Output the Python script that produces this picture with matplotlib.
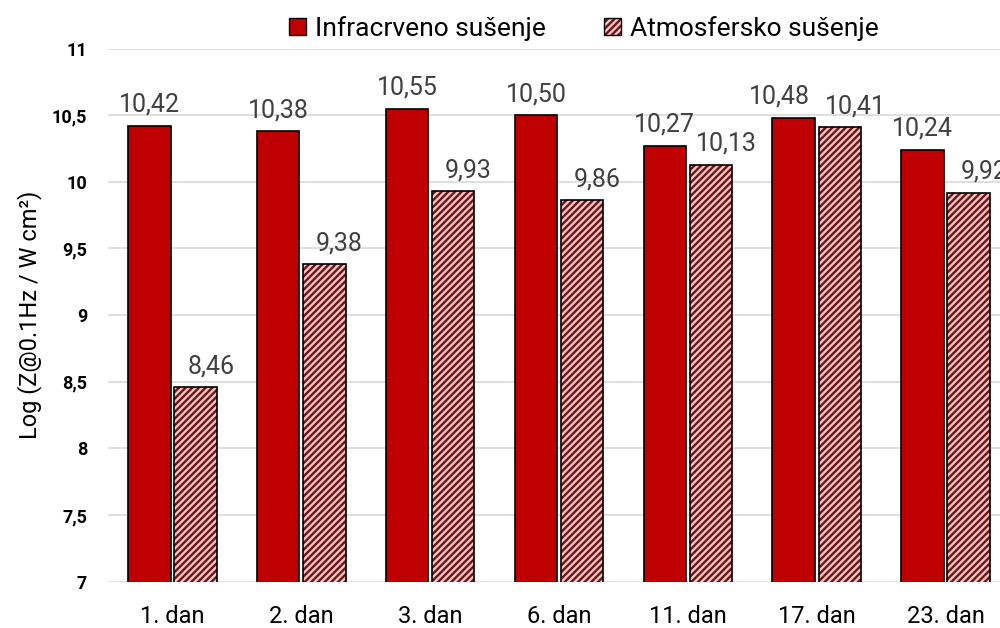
import numpy as np
import matplotlib
matplotlib.use("Agg")
import matplotlib.pyplot as plt
from matplotlib.patches import Patch
from matplotlib.legend_handler import HandlerTuple
from matplotlib.ticker import FuncFormatter

days = ["1. dan", "2. dan", "3. dan", "6. dan", "11. dan", "17. dan", "23. dan"]
infrared = [10.42, 10.38, 10.55, 10.50, 10.27, 10.48, 10.24]
atmospheric = [8.46, 9.38, 9.93, 9.86, 10.13, 10.41, 9.92]

RED = "#c00000"
PINK = "#f4c4c4"
STRIPE = "#6b1515"

plt.rcParams["font.family"] = ["Roboto", "DejaVu Sans"]
plt.rcParams["hatch.linewidth"] = 1.7

fig = plt.figure(figsize=(10, 6.28), dpi=100)
ax = fig.add_axes([0.108, 0.0737, 0.902, 0.849])

x = np.arange(len(days))
off = 0.179
w = 0.33

ax.bar(x - off, infrared, w, color=RED, edgecolor="black", linewidth=1.2, zorder=3)
# hatched bars: stripes first, then black outline on top
ax.bar(x + off, atmospheric, w, color=PINK, edgecolor=STRIPE, hatch="/////", linewidth=0, zorder=3)
ax.bar(x + off, atmospheric, w, fill=False, edgecolor="black", linewidth=1.2, zorder=4)

# labels: infrared centred (17. dan nudged left), atmospheric nudged right like the original
for i, (xi, v) in enumerate(zip(x - off, infrared)):
    dx = -10 if i == 5 else 0
    ax.annotate(f"{v:.2f}".replace(".", ","), (xi, v), xytext=(dx, 10), textcoords="offset points",
                ha="center", va="baseline", fontsize=18, color="#404040")
for xi, v in zip(x + off, atmospheric):
    ax.annotate(f"{v:.2f}".replace(".", ","), (xi, v), xytext=(11, 10), textcoords="offset points",
                ha="center", va="baseline", fontsize=18, color="#404040", annotation_clip=False)

ax.set_ylim(7, 11)
ax.set_xlim(-0.5, len(days) - 0.5)
ax.set_yticks(np.arange(7, 11.01, 0.5))
ax.yaxis.set_major_formatter(FuncFormatter(lambda v, p: f"{v:g}".replace(".", ",")))
ax.set_xticks(x)
ax.set_xticklabels(days)
ax.tick_params(axis="x", length=0, pad=17, labelsize=17)
ax.tick_params(axis="y", length=0, pad=15, labelsize=13)
for lbl in ax.get_yticklabels():
    lbl.set_fontweight("bold")

ax.grid(axis="y", color="#d9d9d9", linewidth=1.2, zorder=0)
ax.set_axisbelow(True)
for s in ax.spines.values():
    s.set_visible(False)

ax.set_ylabel("Log (Z@0.1Hz / W cm²)", fontsize=17)
ax.yaxis.set_label_coords(-0.073, 0.5)

h1 = Patch(facecolor=RED, edgecolor="black", linewidth=1.0)
h2a = Patch(facecolor=PINK, edgecolor=STRIPE, hatch="/////", linewidth=0)
h2b = Patch(fill=False, edgecolor="black", linewidth=1.0)
fig.legend([h1, (h2a, h2b)], ["Infracrveno sušenje", "Atmosfersko sušenje"],
           handler_map={tuple: HandlerTuple(ndivide=1, pad=0)},
           loc="center", bbox_to_anchor=(0.584, 0.955), ncol=2, frameon=False,
           fontsize=19, handlelength=0.65, handleheight=0.65, handletextpad=0.35,
           columnspacing=2.2)

fig.savefig("out.png", dpi=100)
